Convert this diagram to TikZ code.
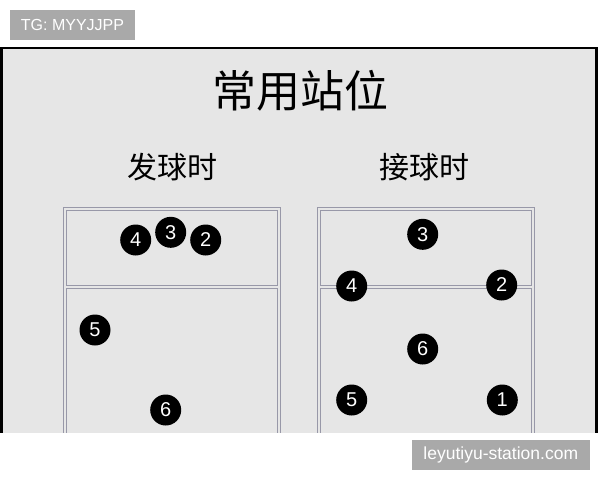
\documentclass[tikz,border=0pt]{standalone}
\usepackage{fontspec}
\setmainfont{Liberation Sans}
\newfontfamily\cjk{Noto Sans CJK SC}
\definecolor{panelgray}{HTML}{E6E6E6}
\definecolor{courtline}{HTML}{9898A8}
\definecolor{taggray}{HTML}{A9A9A9}

\begin{document}
\begin{tikzpicture}[x=1pt, y=-1pt]
	\tikzstyle{ball}=[circle, fill=black, text=white, minimum size=31pt, inner sep=0pt, font=\fontsize{20}{20}\selectfont]
	\tikzstyle{court}=[draw=courtline, line width=1.3pt]
	\tikzstyle{heading}=[font=\cjk\fontsize{30}{30}\selectfont]
	
	\useasboundingbox (0,0) rectangle (600,480);
	\fill[white] (0,0) rectangle (600,480);
	
	% panel
	\fill[panelgray] (1,47.5) rectangle (597,432.5);
	\draw[line width=2.6pt] (1.5,432.5) -- (1.5,47.8) -- (596.7,47.8) -- (596.7,432.5);
	
	\node[font=\cjk\fontsize{44}{44}\selectfont] (title) at (300,91) {常用站位};
	\node[heading] (serve) at (172,167) {发球时};
	\node[heading] (receive) at (424.5,167) {接球时};
	
	% courts
	\begin{scope}
		\clip (0,47) rectangle (600,432.5);
		\draw[court] (63.8,207.6) rectangle (280.4,445);
		\draw[court] (66.6,210.6) rectangle (277.6,285.6);
		\draw[court] (66.6,288.6) rectangle (277.6,445);
		\draw[court] (317.6,207.6) rectangle (534.8,445);
		\draw[court] (320.4,210.6) rectangle (531.8,285.8);
		\draw[court] (320.4,288.8) rectangle (531.8,445);
	\end{scope}
	
	% serving
	\node[ball] (s4) at (135.7,240) {4};
	\node[ball] (s3) at (170.7,232.3) {3};
	\node[ball] (s2) at (205.7,240) {2};
	\node[ball] (s5) at (95,330) {5};
	\node[ball] (s6) at (165.7,410) {6};
	
	% receiving
	\node[ball] (r3) at (422.7,234.3) {3};
	\node[ball] (r4) at (351.7,286) {4};
	\node[ball] (r2) at (501.7,285) {2};
	\node[ball] (r6) at (422.7,349) {6};
	\node[ball] (r5) at (351.7,400) {5};
	\node[ball] (r1) at (502.3,400) {1};
	
	% tags
	\fill[taggray] (10,10) rectangle (135,40);
	\node[text=white, font=\fontsize{16}{16}\selectfont] (tg) at (72.5,25) {TG: MYYJJPP};
	\fill[taggray] (411.7,440) rectangle (590,470);
	\node[text=white, font=\fontsize{17.5}{17.5}\selectfont] (site) at (500.8,455) {leyutiyu-station.com};
\end{tikzpicture}
\end{document}
